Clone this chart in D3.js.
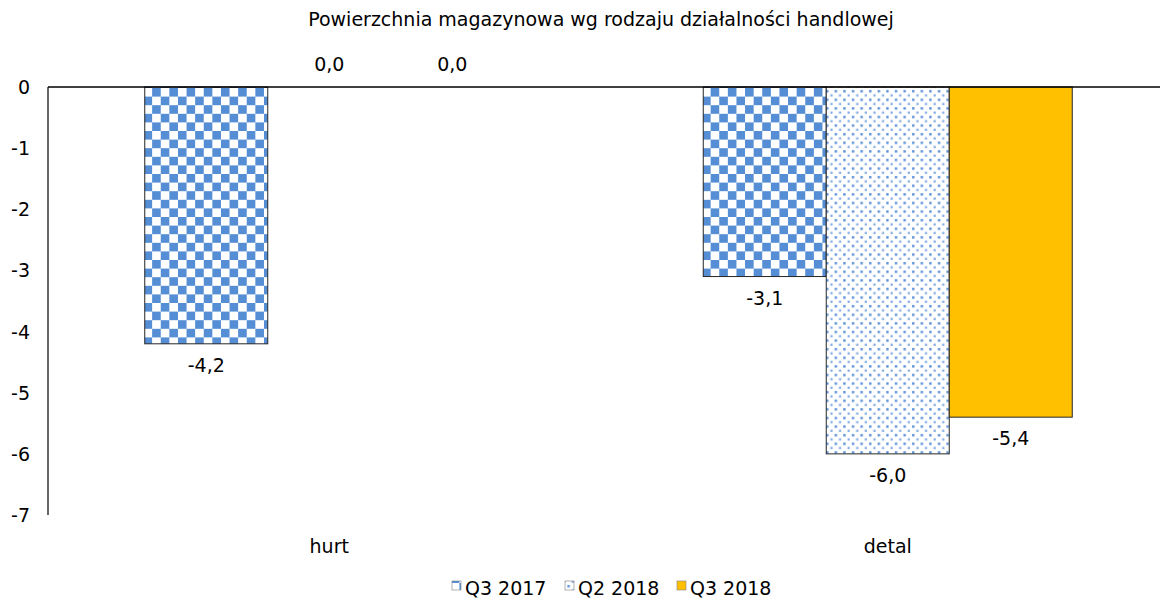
<!DOCTYPE html>
<html>
<head>
<meta charset="utf-8">
<script src="https://cdn.jsdelivr.net/npm/d3@7"></script>
<style>
  html, body { margin: 0; padding: 0; background: #fff; }
  svg text { font-family: "DejaVu Sans", Verdana, sans-serif; fill: #000; font-size: 19px; }
</style>
</head>
<body>
<svg id="chart" width="1160" height="602"></svg>
<script>
// Warehouse floor area by type of trade activity
const categories = ["hurt", "detal"];
const seriesNames = ["Q3 2017", "Q2 2018", "Q3 2018"];
const q3_2017 = [-4.2, -3.1];
const q2_2018 = [0.0, -6.0];
const q3_2018 = [0.0, -5.4];
const yTicks = [0, -1, -2, -3, -4, -5, -6, -7];
const title = "Powierzchnia magazynowa wg rodzaju działalności handlowej";

const seriesValues = [q3_2017, q2_2018, q3_2018];

const svg = d3.select("#chart");
const defs = svg.append("defs");

// checkerboard fill
const cell = 8.6;
const chk = defs.append("pattern").attr("id", "checker")
  .attr("patternUnits", "userSpaceOnUse").attr("width", cell * 2).attr("height", cell * 2)
  .attr("x", 145).attr("y", 88);
chk.append("rect").attr("width", cell * 2).attr("height", cell * 2).attr("fill", "#fff");
chk.append("rect").attr("width", cell).attr("height", cell).attr("fill", "#558ED5");
chk.append("rect").attr("x", cell).attr("y", cell).attr("width", cell).attr("height", cell).attr("fill", "#558ED5");

// dotted fill
const dp = 8.6;
const dot = defs.append("pattern").attr("id", "dots")
  .attr("patternUnits", "userSpaceOnUse").attr("width", dp).attr("height", dp)
  .attr("x", 826).attr("y", 88);
dot.append("rect").attr("width", dp).attr("height", dp).attr("fill", "#fff");
dot.append("rect").attr("x", 2).attr("y", 2).attr("width", 2.4).attr("height", 2.4).attr("fill", "#5A90D8");
dot.append("rect").attr("x", 6.3).attr("y", 6.3).attr("width", 2.2).attr("height", 2.2).attr("fill", "#7FA9E2");

const fills = ["url(#checker)", "url(#dots)", "#FFC000"];

const x0 = d3.scaleBand().domain(categories).range([50, 1167]).paddingInner(0).paddingOuter(0);
const groupW = 369;
const x1 = d3.scaleBand().domain(seriesNames).range([0, groupW]);
const y = d3.scaleLinear().domain([-7, 0]).range([515, 87]);

// title
svg.append("text").attr("x", 601).attr("y", 26).attr("text-anchor", "middle").text(title);

// y axis labels
svg.append("g").selectAll("text").data(yTicks).join("text")
  .attr("x", 30).attr("y", d => y(d) + 7)
  .attr("text-anchor", "end")
  .text(d => d === 0 ? "0" : "-" + Math.abs(d));

// bars
const groups = svg.append("g").selectAll("g").data(categories).join("g")
  .attr("transform", c => `translate(${x0(c) + (x0.bandwidth() - groupW) / 2},0)`);

groups.each(function (c, ci) {
  const g = d3.select(this);
  seriesNames.forEach((s, si) => {
    const v = seriesValues[si][ci];
    const yTop = y(Math.max(0, v));
    const yBot = y(Math.min(0, v));
    if (v !== 0) {
      g.append("rect")
        .attr("x", x1(s)).attr("y", yTop)
        .attr("width", x1.bandwidth()).attr("height", yBot - yTop)
        .attr("fill", fills[si]).attr("stroke", "#262626").attr("stroke-width", 1);
    }
    const ly = v < 0 ? y(v) + 28 : y(0) - 16;
    g.append("text")
      .attr("x", x1(s) + x1.bandwidth() / 2).attr("y", ly)
      .attr("text-anchor", "middle")
      .text(v.toFixed(1).replace(".", ","));
  });
});

// axes lines
svg.append("line").attr("x1", 48).attr("x2", 1160).attr("y1", y(0)).attr("y2", y(0))
  .attr("stroke", "#000").attr("stroke-width", 1.5);
svg.append("line").attr("x1", 48).attr("x2", 48).attr("y1", y(0)).attr("y2", y(-7))
  .attr("stroke", "#000").attr("stroke-width", 1.2);

// category labels
svg.append("g").selectAll("text").data(categories).join("text")
  .attr("x", c => x0(c) + x0.bandwidth() / 2).attr("y", 553)
  .attr("text-anchor", "middle").text(c => c);

// legend
const legendX = [452, 565, 677];
const leg = svg.append("g").selectAll("g").data(seriesNames).join("g")
  .attr("transform", (d, i) => `translate(${legendX[i]},581)`);
leg.append("rect").attr("width", 9).attr("height", 9)
  .attr("fill", (d, i) => fills[i]).attr("stroke", "#7f7f7f").attr("stroke-width", 0.6);
leg.append("text").attr("x", 13).attr("y", 14).text(d => d);
</script>
</body>
</html>
